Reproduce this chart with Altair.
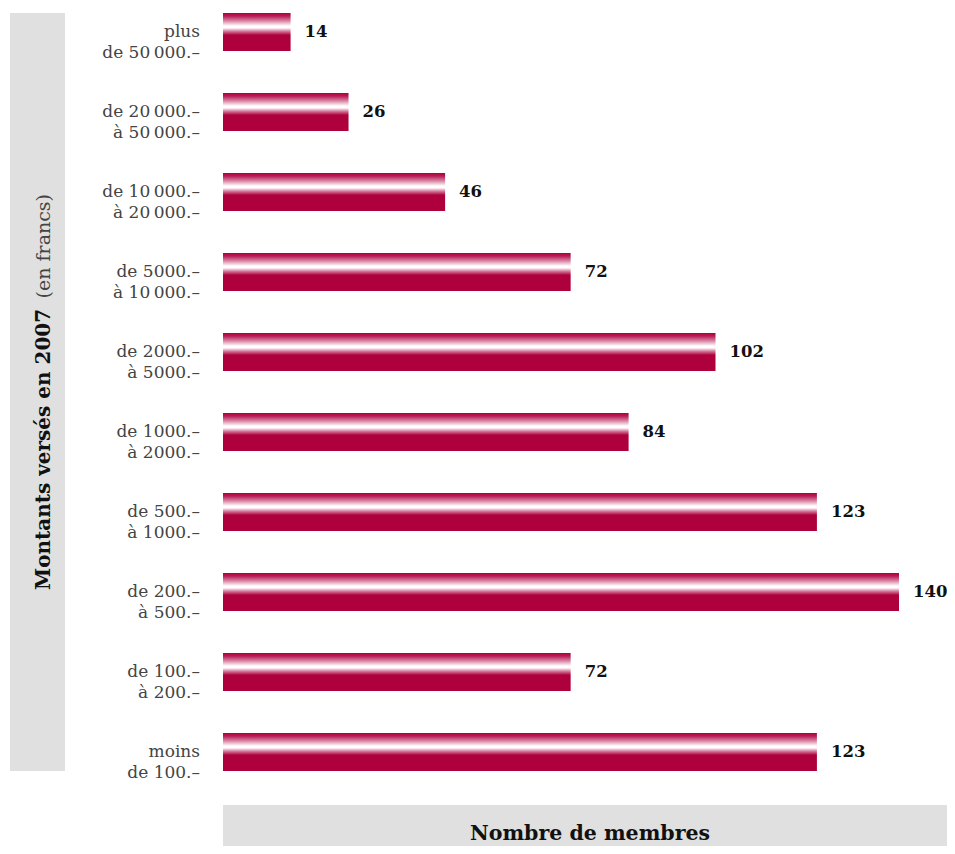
import altair as alt
import pandas as pd

T = "\u2009"
categories = [
    f"plus\nde 50{T}000.–",
    f"de 20{T}000.–\nà 50{T}000.–",
    f"de 10{T}000.–\nà 20{T}000.–",
    f"de 5000.–\nà 10{T}000.–",
    "de 2000.–\nà 5000.–",
    "de 1000.–\nà 2000.–",
    "de 500.–\nà 1000.–",
    "de 200.–\nà 500.–",
    "de 100.–\nà 200.–",
    "moins\nde 100.–",
]
values = [14, 26, 46, 72, 102, 84, 123, 140, 72, 123]
y_title_bold = "Montants versés en 2007"
y_title_regular = "(en francs)"
x_title = "Nombre de membres"

df = pd.DataFrame({"cat": categories, "val": values})
one = pd.DataFrame({"a": [0]})

CRIMSON = "#AE003C"
GREY = "#E0E0E0"
SERIF = "DejaVu Serif"

W, H = 676, 758

y_enc = alt.Y("cat:N", sort=categories,
              scale=alt.Scale(paddingInner=0.525, paddingOuter=0), axis=None)
x_enc = alt.X("val:Q", scale=alt.Scale(domain=[0, 140], nice=False, zero=True), axis=None)

grad = alt.Gradient(
    gradient="linear", x1=0, x2=0, y1=0, y2=1,
    stops=[
        alt.GradientStop(color=CRIMSON, offset=0),
        alt.GradientStop(color="#B81A55", offset=0.08),
        alt.GradientStop(color="#DC91AC", offset=0.22),
        alt.GradientStop(color="#FFFFFF", offset=0.34),
        alt.GradientStop(color="#FFFFFF", offset=0.39),
        alt.GradientStop(color="#D47A99", offset=0.48),
        alt.GradientStop(color=CRIMSON, offset=0.58),
        alt.GradientStop(color=CRIMSON, offset=1),
    ],
)

bars = alt.Chart(df).mark_bar(color=grad).encode(x=x_enc, y=y_enc)

vals = alt.Chart(df).mark_text(
    align="left", baseline="middle", dx=14, font=SERIF, fontWeight="bold",
    fontSize=16.5, color="#111111"
).encode(x=x_enc, y=y_enc, text="val:Q")

cats = alt.Chart(df).mark_text(
    align="right", baseline="middle", lineBreak="\n", lineHeight=21,
    font=SERIF, fontSize=17, color="#444444"
).encode(x=alt.value(-23), y=y_enc, text="cat:N")

left_band = alt.Chart(one).mark_rect(color=GREY).encode(
    x=alt.value(-213), x2=alt.value(-158), y=alt.value(0), y2=alt.value(H))

bottom_band = alt.Chart(one).mark_rect(color=GREY).encode(
    x=alt.value(0), x2=alt.value(724), y=alt.value(792), y2=alt.value(833))

ytitle_b = alt.Chart(one).mark_text(
    angle=270, align="left", baseline="alphabetic", font=SERIF,
    fontWeight="bold", fontSize=20, color="#111111"
).encode(x=alt.value(-173), y=alt.value(577), text=alt.value(y_title_bold))

ytitle_r = alt.Chart(one).mark_text(
    angle=270, align="right", baseline="alphabetic", font=SERIF,
    fontSize=19, color="#444444"
).encode(x=alt.value(-173), y=alt.value(181), text=alt.value(y_title_regular))

xtitle = alt.Chart(one).mark_text(
    align="center", baseline="middle", font=SERIF, fontWeight="bold",
    fontSize=20.5, color="#111111"
).encode(x=alt.value(367), y=alt.value(821), text=alt.value(x_title))

chart = alt.layer(
    left_band, bottom_band, bars, vals, cats, ytitle_b, ytitle_r, xtitle
).properties(
    width=W, height=H,
    background="white",
    autosize=alt.AutoSizeParams(type="none"),
    padding={"left": 215, "top": 5, "right": 48, "bottom": 75},
).configure_view(strokeWidth=0, stroke=None)

chart.save("out.html", embed_options={"renderer": "svg", "actions": False})
